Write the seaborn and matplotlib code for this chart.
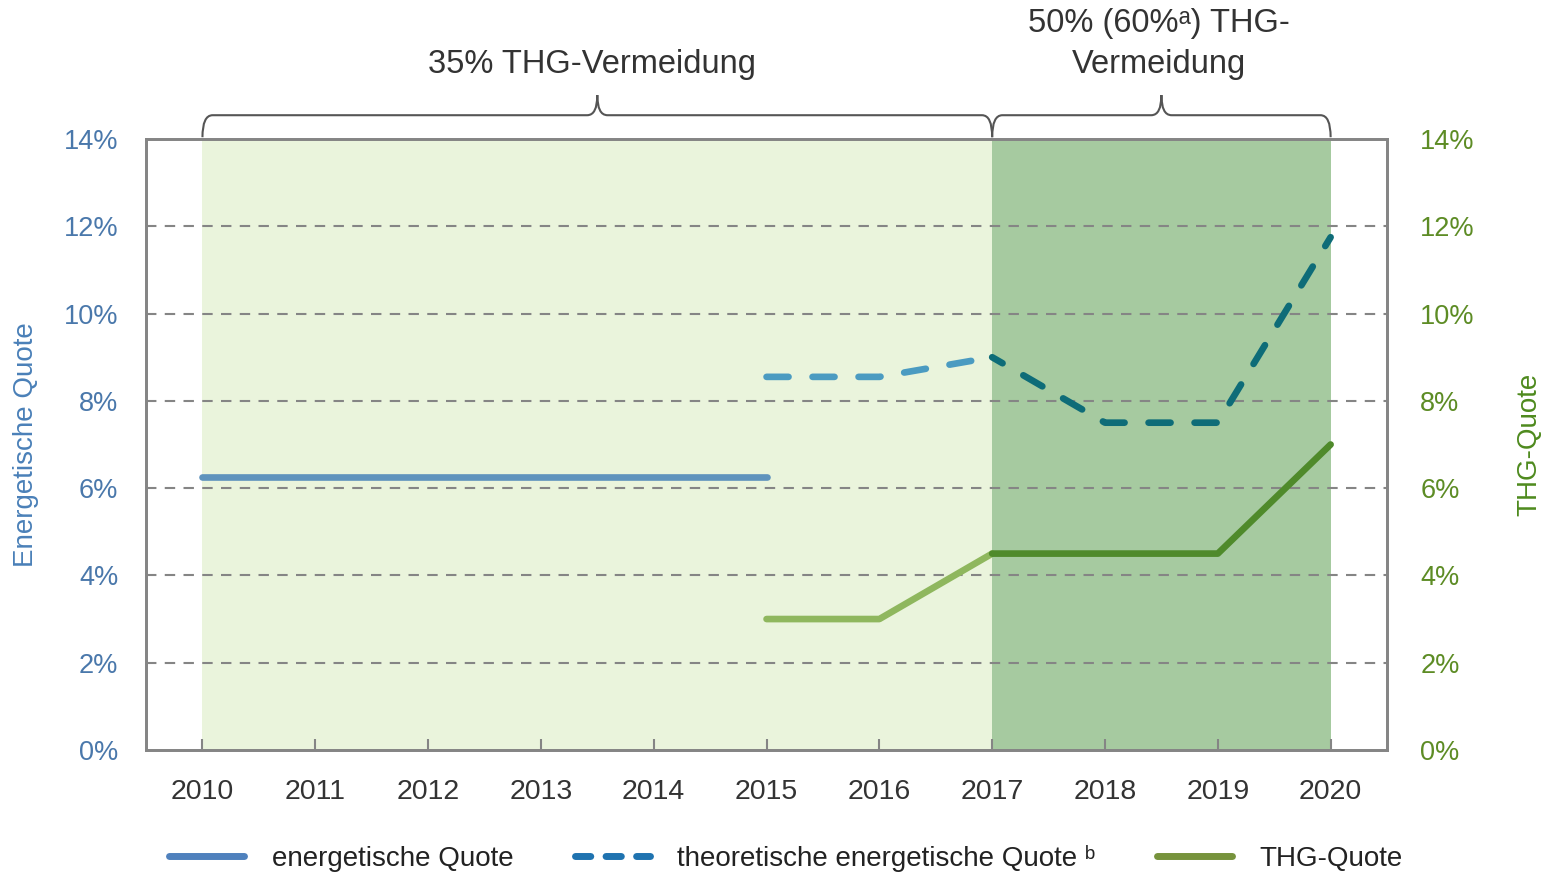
import numpy as np
import pandas as pd
import seaborn as sns
import matplotlib.pyplot as plt
from matplotlib.path import Path
from matplotlib.patches import PathPatch
from matplotlib.lines import Line2D
from matplotlib.ticker import FuncFormatter

# data (values in %)
years = list(range(2010, 2021))
energ_years = [2010, 2011, 2012, 2013, 2014, 2015]
energ_vals = [6.25, 6.25, 6.25, 6.25, 6.25, 6.25]
theo_years = [2015, 2016, 2017, 2018, 2019, 2020]
theo_vals = [8.55, 8.55, 9.0, 7.5, 7.5, 11.75]
thg_years = [2015, 2016, 2017, 2018, 2019, 2020]
thg_vals = [3.0, 3.0, 4.5, 4.5, 4.5, 7.0]
y_ticks = [0, 2, 4, 6, 8, 10, 12, 14]

sns.set_style("white")
plt.rcParams['font.family'] = ['Liberation Sans', 'DejaVu Sans']

fig = plt.figure(figsize=(15.47, 8.75), dpi=100)
ax = fig.add_axes([0.0944, 0.1429, 0.8022, 0.6982])
ax2 = ax.twinx()

grey = '#858585'
ax.set_xlim(2009.5, 2020.5)
ax.set_ylim(0, 14)
ax2.set_ylim(0, 14)

# background periods
ax.axvspan(2010, 2017, color='#eaf4dc', zorder=0, lw=0)
ax.axvspan(2017, 2020, color='#a6caa0', zorder=0, lw=0)

# gridlines
for v in y_ticks[1:-1]:
    ax.axhline(v, color=grey, lw=1.5, ls=(0, (5, 4)), zorder=1)

lw = 4.8
df_e = pd.DataFrame({'Jahr': energ_years, 'Quote': energ_vals})
sns.lineplot(data=df_e, x='Jahr', y='Quote', ax=ax, color='#5f93bd', lw=lw,
             solid_capstyle='round', zorder=3)

df_t = pd.DataFrame({'Jahr': theo_years, 'Quote': theo_vals})
seg1 = df_t[df_t['Jahr'] <= 2017]
seg2 = df_t[df_t['Jahr'] >= 2017]
sns.lineplot(data=seg1, x='Jahr', y='Quote', ax=ax, color='#4b9bc1', lw=lw,
             dashes=False, zorder=3).lines[-1].set(ls=(0, (3.3, 3.6)), dash_capstyle='round')
sns.lineplot(data=seg2, x='Jahr', y='Quote', ax=ax, color='#0e6c78', lw=lw,
             dashes=False, zorder=3).lines[-1].set(ls=(1.5, (3.3, 3.6)), dash_capstyle='round')

df_g = pd.DataFrame({'Jahr': thg_years, 'Quote': thg_vals})
g1 = df_g[df_g['Jahr'] <= 2017]
g2 = df_g[df_g['Jahr'] >= 2017]
sns.lineplot(data=g1, x='Jahr', y='Quote', ax=ax2, color='#8fb75e', lw=lw,
             solid_capstyle='round', zorder=3)
sns.lineplot(data=g2, x='Jahr', y='Quote', ax=ax2, color='#4f8a2b', lw=lw,
             solid_capstyle='round', zorder=3)

# axes styling
for a in (ax, ax2):
    for s in a.spines.values():
        s.set_color(grey)
        s.set_linewidth(2)
ax.set_xticks(years)
ax.set_xticklabels([str(y) for y in years])
ax.tick_params(axis='x', bottom=True, direction='in', length=8, width=1.5, color=grey,
               pad=21, labelsize=20.5, labelcolor='#333333')
ax.set_yticks(y_ticks)
ax.yaxis.set_major_formatter(FuncFormatter(lambda v, p: f'{v:.0f}%'))
ax.tick_params(axis='y', length=0, pad=20, labelsize=19.5, labelcolor='#4a78ab')
ax2.set_yticks(y_ticks)
ax2.yaxis.set_major_formatter(FuncFormatter(lambda v, p: f'{v:.0f}%'))
ax2.tick_params(axis='y', length=0, pad=24, labelsize=19.5, labelcolor='#5d8c25')
ax.set_xlabel('')
ax.set_ylabel('Energetische Quote', fontsize=20, color='#4a80b8', labelpad=18)
ax2.set_ylabel('THG-Quote', fontsize=20, color='#4e8a1e', labelpad=30)
ax2.set_xlim(2009.5, 2020.5)


def brace(a, x0, x1, ylo=1.003, ymid=1.039, ytip=1.072, dx=0.09):
    xm = (x0 + x1) / 2
    verts = [(x0, ylo), (x0, ymid), (x0 + dx, ymid),
             (xm - dx, ymid),
             (xm, ymid), (xm, ytip),
             (xm, ymid), (xm + dx, ymid),
             (x1 - dx, ymid),
             (x1, ymid), (x1, ylo)]
    codes = [Path.MOVETO, Path.CURVE3, Path.CURVE3,
             Path.LINETO,
             Path.CURVE3, Path.CURVE3,
             Path.CURVE3, Path.CURVE3,
             Path.LINETO,
             Path.CURVE3, Path.CURVE3]
    p = PathPatch(Path(verts, codes), transform=a.get_xaxis_transform(),
                  fill=False, ec='#555555', lw=1.5, clip_on=False)
    a.add_patch(p)


brace(ax, 2010, 2017)
brace(ax, 2017, 2020)
tr = ax.get_xaxis_transform()
ax.text(2013.45, 1.122, '35% THG-Vermeidung', transform=tr, ha='center',
        va='center', fontsize=23.5, color='#333333')
ax.text(2018.48, 1.155, '50% (60%ᵃ) THG-\nVermeidung', transform=tr,
        ha='center', va='center', fontsize=23.5, color='#333333', linespacing=1.42)

# legend
handles = [Line2D([], [], color='#4f81bd', lw=5, solid_capstyle='round'),
           Line2D([], [], color='#1f73b0', lw=5, ls=(0, (2.2, 2.2)), dash_capstyle='round'),
           Line2D([], [], color='#77933c', lw=5, solid_capstyle='round')]
labels = ['energetische Quote', 'theoretische energetische Quote ᵇ', 'THG-Quote']
fig.legend(handles, labels, loc='center', bbox_to_anchor=(0.508, 0.019), ncol=3,
           frameon=False, fontsize=20, handlelength=2.7, columnspacing=2.2,
           handletextpad=1.0, labelcolor='#222222')

fig.savefig('out.png', dpi=100)
